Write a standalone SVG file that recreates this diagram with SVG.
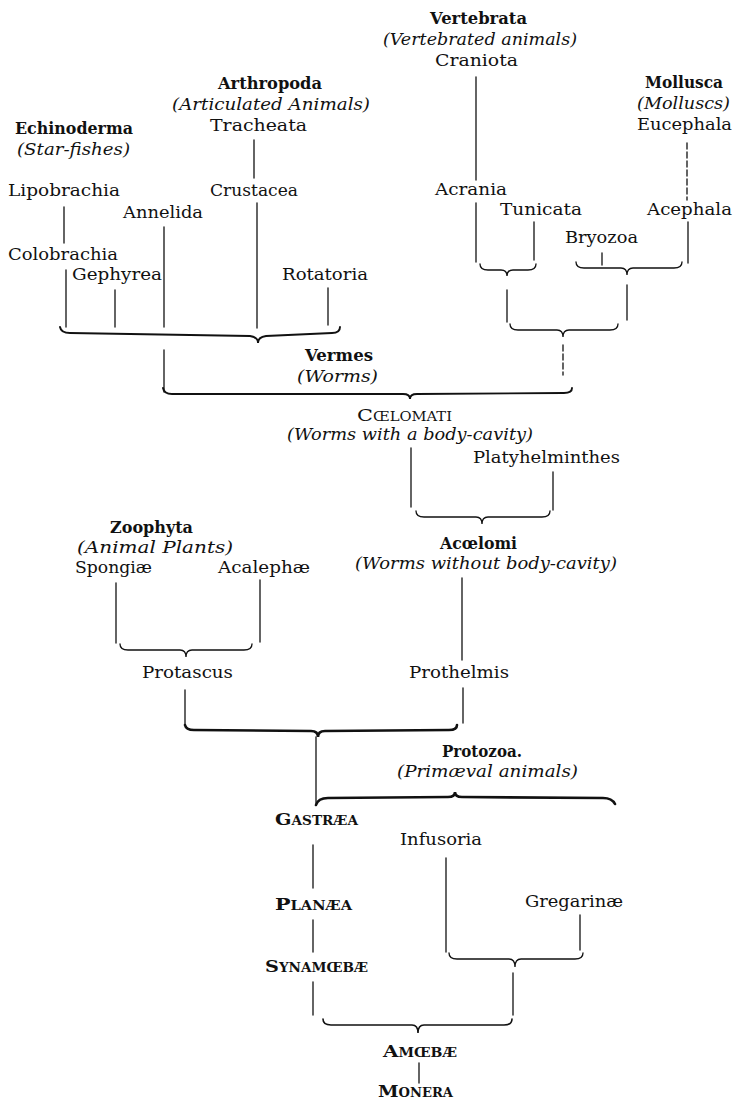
<svg xmlns="http://www.w3.org/2000/svg" width="736" height="1101" viewBox="0 0 736 1101">
<style>
.t{font-family:"DejaVu Serif","Liberation Serif",serif;font-size:17px;fill:#111}
.b{font-weight:bold}
.i{font-style:italic}
.sc{font-variant:small-caps}
.c path,.c line{stroke:#111;stroke-width:1.3;fill:none;stroke-linecap:round}
.c .h{stroke-width:2.6}
.c .d{stroke-dasharray:6 3}
</style>
<rect width="736" height="1101" fill="#fff"/>
<g class="c" id="connectors">
<line x1="476" y1="77" x2="476" y2="180"/>
<line x1="476" y1="203" x2="476" y2="262"/>
<line x1="534" y1="222" x2="534" y2="260"/>
<path d="M480,264 Q480,270 488,270 L501,270 Q507,270 507,276 Q507,270 513,270 L528,270 Q536,270 536,264"/>
<line x1="602" y1="253" x2="602" y2="265"/>
<line class="d" x1="687" y1="143" x2="687" y2="200"/>
<line x1="688" y1="222" x2="688" y2="263"/>
<path d="M576,262 Q576,268 584,268 L621,268 Q627,268 627,275 Q627,268 633,268 L674,268 Q682,268 682,262"/>
<line x1="507" y1="290" x2="507" y2="322"/>
<line x1="627" y1="285" x2="627" y2="320"/>
<path d="M510,324 Q510,330 518,330 L557,330 Q563,330 563,337 Q563,330 569,330 L610,330 Q618,330 618,324"/>
<line class="d" x1="563" y1="345" x2="563" y2="375"/>
<line x1="254" y1="140" x2="254" y2="178"/>
<line x1="64" y1="207" x2="64" y2="243"/>
<line x1="66" y1="270" x2="66" y2="327"/>
<line x1="115" y1="290" x2="115" y2="327"/>
<line x1="164" y1="227" x2="164" y2="327"/>
<line x1="257" y1="203" x2="257" y2="328"/>
<line x1="328" y1="288" x2="328" y2="325"/>
<path style="stroke-width:1.9" d="M60,327 Q61,333 70,333 L250,336 Q258,337 258,343 Q258,337 266,336 L332,333 Q340,333 340,327"/>
<line x1="164" y1="350" x2="164" y2="392"/>
<path style="stroke-width:1.9" d="M163,388 Q164,394 172,394 L403,394 Q410,394 410,399 Q410,394 417,394 L564,393 Q572,393 572,388"/>
<line x1="411" y1="448" x2="411" y2="507"/>
<line x1="553" y1="472" x2="553" y2="510"/>
<path d="M416,511 Q416,517 424,517 L476,517 Q482,517 482,524 Q482,517 488,517 L542,517 Q550,517 550,511"/>
<line x1="462" y1="578" x2="462" y2="660"/>
<line x1="116" y1="583" x2="116" y2="643"/>
<line x1="260" y1="580" x2="260" y2="642"/>
<path d="M120,644 Q120,650 128,650 L180,650 Q186,650 186,657 Q186,650 192,650 L244,650 Q252,650 252,644"/>
<line x1="185" y1="690" x2="185" y2="725"/>
<line x1="463" y1="688" x2="463" y2="723"/>
<path class="h" d="M185,725 Q186,730 194,730 L311,731 Q318,731 318,737 Q318,731 325,731 L449,730 Q457,730 457,725"/>
<line x1="316" y1="737" x2="316" y2="805"/>
<path class="h" d="M316,805 Q318,798 328,798 L448,797 Q455,797 455,792 Q455,797 462,797 L603,798 Q612,798 615,804"/>
<line x1="313" y1="845" x2="313" y2="888"/>
<line x1="313" y1="920" x2="313" y2="952"/>
<line x1="313" y1="982" x2="313" y2="1015"/>
<line x1="446" y1="858" x2="446" y2="952"/>
<line x1="580" y1="915" x2="580" y2="950"/>
<path d="M449,953 Q449,959 457,959 L509,959 Q515,959 515,967 Q515,959 521,959 L575,959 Q583,959 583,953"/>
<line x1="513" y1="973" x2="513" y2="1015"/>
<path style="stroke-width:1.6" d="M323,1019 Q323,1025 331,1025 L412,1025 Q418,1025 418,1033 Q418,1025 424,1025 L504,1025 Q512,1025 512,1019"/>
<line x1="419" y1="1063" x2="419" y2="1083"/>
</g>
<g id="vertebrata"><text class="t b" x="430" y="24" textLength="97" lengthAdjust="spacingAndGlyphs">Vertebrata</text><text class="t i" x="383" y="45" textLength="194" lengthAdjust="spacingAndGlyphs">(Vertebrated animals)</text><text class="t" x="435" y="66" textLength="83" lengthAdjust="spacingAndGlyphs">Craniota</text></g>
<g id="mollusca"><text class="t b" x="645" y="88" textLength="78" lengthAdjust="spacingAndGlyphs">Mollusca</text><text class="t i" x="637" y="109" textLength="93" lengthAdjust="spacingAndGlyphs">(Molluscs)</text><text class="t" x="637" y="130" textLength="95" lengthAdjust="spacingAndGlyphs">Eucephala</text></g>
<g id="arthropoda"><text class="t b" x="218" y="89" textLength="104" lengthAdjust="spacingAndGlyphs">Arthropoda</text><text class="t i" x="172" y="110" textLength="198" lengthAdjust="spacingAndGlyphs">(Articulated Animals)</text><text class="t" x="210" y="131" textLength="97" lengthAdjust="spacingAndGlyphs">Tracheata</text></g>
<g id="echinoderma"><text class="t b" x="15" y="134" textLength="118" lengthAdjust="spacingAndGlyphs">Echinoderma</text><text class="t i" x="17" y="155" textLength="113" lengthAdjust="spacingAndGlyphs">(Star-fishes)</text></g>
<g id="crustacea"><text class="t" x="210" y="196" textLength="88" lengthAdjust="spacingAndGlyphs">Crustacea</text></g>
<g id="lipobrachia"><text class="t" x="8" y="196" textLength="112" lengthAdjust="spacingAndGlyphs">Lipobrachia</text></g>
<g id="annelida"><text class="t" x="123" y="218" textLength="80" lengthAdjust="spacingAndGlyphs">Annelida</text></g>
<g id="colobrachia"><text class="t" x="8" y="260" textLength="110" lengthAdjust="spacingAndGlyphs">Colobrachia</text></g>
<g id="gephyrea"><text class="t" x="72" y="280" textLength="90" lengthAdjust="spacingAndGlyphs">Gephyrea</text></g>
<g id="rotatoria"><text class="t" x="282" y="280" textLength="86" lengthAdjust="spacingAndGlyphs">Rotatoria</text></g>
<g id="acrania"><text class="t" x="435" y="195" textLength="72" lengthAdjust="spacingAndGlyphs">Acrania</text></g>
<g id="tunicata"><text class="t" x="500" y="215" textLength="82" lengthAdjust="spacingAndGlyphs">Tunicata</text></g>
<g id="bryozoa"><text class="t" x="565" y="243" textLength="73" lengthAdjust="spacingAndGlyphs">Bryozoa</text></g>
<g id="acephala"><text class="t" x="647" y="215" textLength="85" lengthAdjust="spacingAndGlyphs">Acephala</text></g>
<g id="vermes"><text class="t b" x="305" y="361" textLength="68" lengthAdjust="spacingAndGlyphs">Vermes</text><text class="t i" x="297" y="382" textLength="81" lengthAdjust="spacingAndGlyphs">(Worms)</text></g>
<g id="coelomati"><text class="t sc" x="357" y="421" textLength="95" lengthAdjust="spacingAndGlyphs">Cœlomati</text><text class="t i" x="287" y="440" textLength="246" lengthAdjust="spacingAndGlyphs">(Worms with a body-cavity)</text></g>
<g id="platyhelminthes"><text class="t" x="473" y="463" textLength="147" lengthAdjust="spacingAndGlyphs">Platyhelminthes</text></g>
<g id="acoelomi"><text class="t b" x="440" y="549" textLength="77" lengthAdjust="spacingAndGlyphs">Acœlomi</text><text class="t i" x="355" y="569" textLength="262" lengthAdjust="spacingAndGlyphs">(Worms without body-cavity)</text></g>
<g id="zoophyta"><text class="t b" x="110" y="533" textLength="83" lengthAdjust="spacingAndGlyphs">Zoophyta</text><text class="t i" x="77" y="553" textLength="156" lengthAdjust="spacingAndGlyphs">(Animal Plants)</text></g>
<g id="spongiae"><text class="t" x="75" y="573" textLength="77" lengthAdjust="spacingAndGlyphs">Spongiæ</text></g>
<g id="acalephae"><text class="t" x="218" y="573" textLength="92" lengthAdjust="spacingAndGlyphs">Acalephæ</text></g>
<g id="protascus"><text class="t" x="142" y="678" textLength="91" lengthAdjust="spacingAndGlyphs">Protascus</text></g>
<g id="prothelmis"><text class="t" x="409" y="678" textLength="100" lengthAdjust="spacingAndGlyphs">Prothelmis</text></g>
<g id="protozoa"><text class="t b" x="442" y="757" textLength="80" lengthAdjust="spacingAndGlyphs">Protozoa.</text><text class="t i" x="397" y="777" textLength="181" lengthAdjust="spacingAndGlyphs">(Primæval animals)</text></g>
<g id="gastraea"><text class="t b sc" x="275" y="825" textLength="83" lengthAdjust="spacingAndGlyphs">Gastræa</text></g>
<g id="infusoria"><text class="t" x="400" y="845" textLength="82" lengthAdjust="spacingAndGlyphs">Infusoria</text></g>
<g id="planaea"><text class="t b sc" x="275" y="910" textLength="77" lengthAdjust="spacingAndGlyphs">Planæa</text></g>
<g id="gregarinae"><text class="t" x="525" y="907" textLength="98" lengthAdjust="spacingAndGlyphs">Gregarinæ</text></g>
<g id="synamoebae"><text class="t b sc" x="265" y="972" textLength="103" lengthAdjust="spacingAndGlyphs">Synamœbæ</text></g>
<g id="amoebae"><text class="t b sc" x="383" y="1057" textLength="74" lengthAdjust="spacingAndGlyphs">Amœbæ</text></g>
<g id="monera"><text class="t b sc" x="378" y="1097" textLength="75" lengthAdjust="spacingAndGlyphs">Monera</text></g>
</svg>
